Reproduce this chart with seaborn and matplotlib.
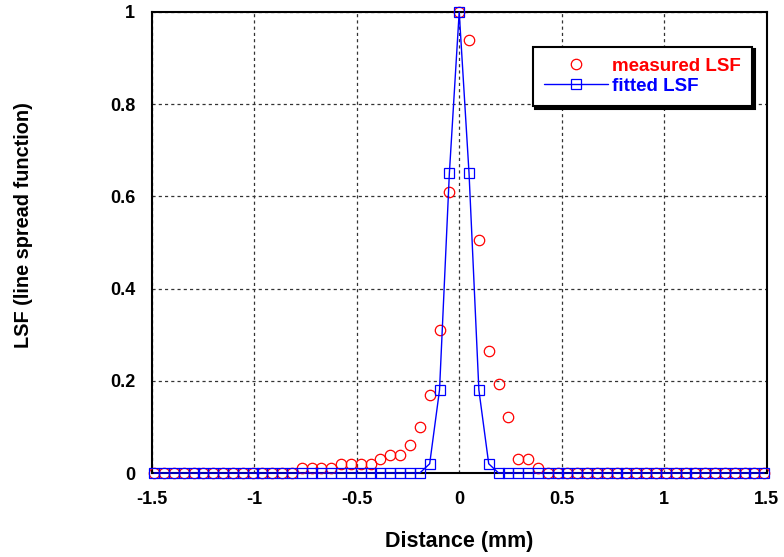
import matplotlib
matplotlib.use("Agg")
import matplotlib.pyplot as plt
import numpy as np
import pandas as pd
import seaborn as sns

# sample index (pixel pitch 0.048 mm)
sample_index = list(range(-31, 32))
pitch_mm = 0.048

measured_lsf = ([0.0] * 15 +
                [0.01, 0.01, 0.01, 0.01,
                 0.02, 0.02, 0.02, 0.02,
                 0.03, 0.04, 0.04, 0.06, 0.10, 0.17, 0.31, 0.61,
                 1.0,
                 0.94, 0.505, 0.265, 0.193, 0.122, 0.03, 0.03, 0.01] +
                [0.0] * 23)

fitted_lsf = ([0.0] * 28 +
              [0.02, 0.18, 0.65, 1.0, 0.65, 0.18, 0.02] +
              [0.0] * 28)

x_ticks = [-1.5, -1, -0.5, 0, 0.5, 1, 1.5]
x_tick_labels = ["-1.5", "-1", "-0.5", "0", "0.5", "1", "1.5"]
y_ticks = [0, 0.2, 0.4, 0.6, 0.8, 1.0]
y_tick_labels = ["0", "0.2", "0.4", "0.6", "0.8", "1"]

df = pd.DataFrame({
    "distance": np.array(sample_index) * pitch_mm,
    "measured": measured_lsf,
    "fitted": fitted_lsf,
})

sns.set_style("white")
plt.rcParams["font.family"] = ["Liberation Sans", "DejaVu Sans"]
plt.rcParams["font.weight"] = "bold"
plt.rcParams["text.color"] = "black"
plt.rcParams["axes.labelcolor"] = "black"

fig = plt.figure(figsize=(7.84, 5.57), dpi=100)
ax = fig.add_axes([151.7 / 784, 1 - 473 / 557, 615 / 784, 461 / 557])

sns.lineplot(data=df, x="distance", y="measured", ax=ax, linestyle="",
             marker="o", markersize=7.5, markerfacecolor="none",
             markeredgecolor="#ff0000", markeredgewidth=0.9, color="#ff0000",
             label="measured LSF", clip_on=False, zorder=3)
sns.lineplot(data=df, x="distance", y="fitted", ax=ax, linewidth=1.0,
             marker="s", markersize=7.5, markerfacecolor="none",
             markeredgecolor="#0000ff", markeredgewidth=0.9, color="#0000ff",
             label="fitted LSF", clip_on=False, zorder=4)

ax.set_xlim(-1.5, 1.5)
ax.set_ylim(0, 1)
ax.set_xticks(x_ticks)
ax.set_xticklabels(x_tick_labels)
ax.set_yticks(y_ticks)
ax.set_yticklabels(y_tick_labels)

ax.grid(True, color="#333333", linestyle=(0, (2.5, 2.5)), linewidth=0.9)
for s in ax.spines.values():
    s.set_color("black")
    s.set_linewidth(1.5)

ax.tick_params(axis="both", direction="in", length=4, width=1, colors="black",
               labelsize=13)
ax.tick_params(axis="x", pad=13)
ax.tick_params(axis="y", pad=12)
for lab in ax.get_xticklabels() + ax.get_yticklabels():
    lab.set_fontweight("bold")

ax.set_xlabel("Distance (mm)", fontsize=15.5, fontweight="bold", color="black")
ax.set_ylabel("LSF (line spread function)", fontsize=14.3, fontweight="bold",
              color="black")
ax.xaxis.set_label_coords(0.5, (473 - 531) / 461)
ax.yaxis.set_label_coords((33 - 151.7) / 615, (473 - 225.5) / 461)

leg = ax.legend(loc="upper right", bbox_to_anchor=(0.9765, 0.925),
                borderaxespad=0, frameon=True, fancybox=False,
                shadow={"facecolor": "black", "edgecolor": "black", "alpha": 1},
                prop={"weight": "bold", "size": 13.5}, handlelength=3.4,
                handletextpad=0.25, borderpad=0.6, labelspacing=0.15)
leg.get_frame().set_edgecolor("black")
leg.get_frame().set_linewidth(1.5)
for txt, col in zip(leg.get_texts(), ["#ff0000", "#0000ff"]):
    txt.set_color(col)

fig.savefig("out.png", dpi=100)
